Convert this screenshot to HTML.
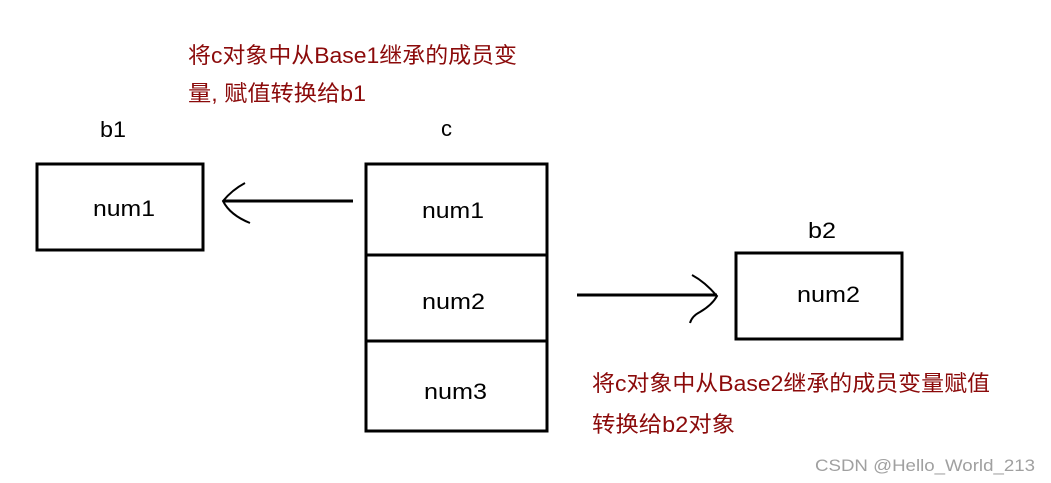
<!DOCTYPE html>
<html><head><meta charset="utf-8"><style>
html,body{margin:0;padding:0;background:#fff;}
svg{display:block;}
text{font-family:"Liberation Sans","Noto Sans CJK SC",sans-serif;}
</style></head><body>
<svg width="1051" height="483" viewBox="0 0 1051 483" xmlns="http://www.w3.org/2000/svg">
<rect width="1051" height="483" fill="#fff"/>
<g fill="#8b0a0a" font-size="22">
<text x="188" y="63" textLength="329" lengthAdjust="spacingAndGlyphs">将c对象中从Base1继承的成员变</text>
<text x="188" y="101" textLength="178" lengthAdjust="spacingAndGlyphs">量, 赋值转换给b1</text>
<text x="592" y="391" textLength="398" lengthAdjust="spacingAndGlyphs">将c对象中从Base2继承的成员变量赋值</text>
<text x="592" y="432" textLength="143" lengthAdjust="spacingAndGlyphs">转换给b2对象</text>
</g>
<g fill="#000" font-size="22">
<text x="100" y="137" textLength="26" lengthAdjust="spacingAndGlyphs">b1</text>
<text x="441" y="136">c</text>
<text x="808" y="238" textLength="28" lengthAdjust="spacingAndGlyphs">b2</text>
<text x="93" y="216" textLength="62" lengthAdjust="spacingAndGlyphs">num1</text>
<text x="422" y="218" textLength="62" lengthAdjust="spacingAndGlyphs">num1</text>
<text x="422" y="309" textLength="63" lengthAdjust="spacingAndGlyphs">num2</text>
<text x="424" y="399" textLength="63" lengthAdjust="spacingAndGlyphs">num3</text>
<text x="797" y="302" textLength="63" lengthAdjust="spacingAndGlyphs">num2</text>
</g>
<g fill="none" stroke="#000" stroke-width="3">
<rect x="37" y="164" width="166" height="86"/>
<rect x="366" y="164" width="181" height="267"/>
<line x1="366" y1="255" x2="547" y2="255"/>
<line x1="366" y1="341" x2="547" y2="341"/>
<rect x="736" y="253" width="166" height="86"/>
<line x1="224" y1="201" x2="353" y2="201"/>
<line x1="577" y1="295" x2="717" y2="295"/>
</g>
<g fill="none" stroke="#000" stroke-width="2">
<path d="M245 183 Q232 190 223 201 Q230 215 250 223"/>
<path d="M692 275 Q705 282 717 296 Q712 305 700 312 Q692 316 690 323"/>
</g>
<text x="815" y="471" font-size="17" fill="#a0a0a0" textLength="220" lengthAdjust="spacingAndGlyphs">CSDN @Hello_World_213</text>
</svg>
</body></html>
